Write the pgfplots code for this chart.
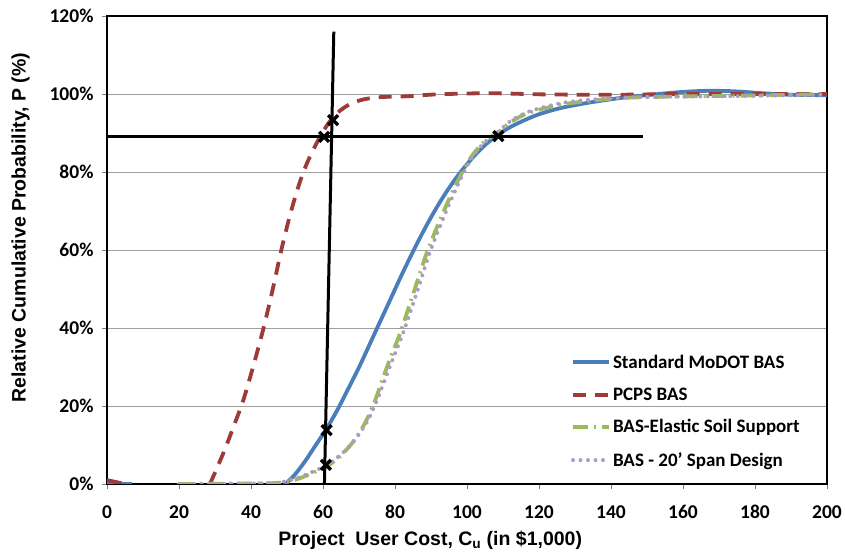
\documentclass[border=0pt]{standalone}
\usepackage{fontspec}
\setmainfont{Carlito}
\newfontfamily\arialfont{Liberation Sans}
\usepackage{pgfplots}
\pgfplotsset{compat=1.18}
\definecolor{cblue}{HTML}{4A7EBB}
\definecolor{cred}{HTML}{9E3B38}
\definecolor{cgreen}{HTML}{9BBB59}
\definecolor{cpurple}{HTML}{AE9AC8}
\begin{document}
\begin{tikzpicture}
\useasboundingbox (-107pt,-72pt) rectangle (738pt,484pt);
\begin{axis}[
  width=720pt, height=468pt, scale only axis,
  xmin=0, xmax=200, ymin=0, ymax=120,
  xtick={0,20,...,200}, ytick={0,20,...,120},
  ymajorgrids, grid style={gray!75, line width=0.9pt},
  axis line style={black, line width=1.6pt},
  tick align=outside, major tick length=5pt,
  tick style={gray, line width=0.9pt},
  xtick pos=left, ytick pos=left,
  /pgf/number format/assume math mode=true,
  ticklabel style={font=\fontsize{19.5}{19.5}\selectfont\bfseries},
  xticklabel shift=13pt, yticklabel shift=5pt,
  yticklabel={\pgfmathprintnumber{\tick}\%},
  xlabel={Project\ \ User Cost, C\textsubscript{u} (in \$1,000)},
  ylabel={Relative Cumulative Probability, P (\%)},
  label style={font=\arialfont\bfseries\fontsize{19.5}{19.5}\selectfont},
  xlabel style={at={(axis description cs:0.449,-0.12)}, anchor=center},
  ylabel style={at={(axis description cs:-0.12,0.548)}, anchor=center, rotate=0},
  legend style={at={(axis description cs:0.64,0.285)}, anchor=north west,
    draw=none, fill=none, row sep=14pt,
    font=\fontsize{19}{19}\selectfont\bfseries,
    nodes={inner sep=2pt}},
  legend cell align=left,
  legend image code/.code={\draw[#1] (0pt,0pt) -- (36pt,0pt);},
]
% Standard MoDOT BAS
\addplot[cblue, line width=3.8pt, smooth, tension=0.5] coordinates {
 (49.5,0) (52,2.2) (55,5.8) (58,10) (61,14.2) (64,19) (67,24.4) (70,29.9) (73,35.9)
 (76,41.9) (79,47.9) (82,53.9) (85,59.6) (88,65) (91,70) (94,74.5) (97,78.5)
 (100,82) (103,85.1) (106,87.7) (109,89.8) (112,91.5) (116,93.3) (120,94.8)
 (126,96.4) (134,97.8) (142,98.9) (150,99.7) (158,100.4) (166,100.8) (174,100.7)
 (182,100.2) (190,99.8) (200,99.7)};
\addlegendentry{Standard MoDOT BAS}
% PCPS BAS
\addplot[cred, line width=3.8pt, dash pattern=on 13pt off 9pt, smooth, tension=0.5] coordinates {
 (28.6,0) (30.5,4) (32.8,9) (35.4,15.3) (37.9,21.6) (40.6,30.1) (43.6,40.4) (46.2,50.6)
 (48.5,60.3) (51,69.5) (53.6,77.5) (55.9,83) (58.7,88.2) (61.5,92.5) (64.3,95.4)
 (67.5,97.4) (71.2,98.6) (76,99.2) (83,99.4) (91.6,99.9) (106,100.2) (121,99.9)
 (140,99.8) (160,100) (180,100) (200,100)};
\addlegendentry{PCPS BAS}
% BAS-Elastic Soil Support
\addplot[cgreen, line width=3.8pt, dash pattern=on 15pt off 6pt on 2pt off 6pt, smooth, tension=0.5] coordinates {
 (20,0) (45,0.2) (50,0.6) (53.6,1.5) (57,2.8) (61,4.5) (64,6.5) (67.5,9.8) (70,13)
 (72.1,16.4) (74.5,21.5) (76.8,27.5) (79,33) (81.4,38.6) (85.1,48.9) (88.8,59.2)
 (92.5,67.7) (96.2,75.4) (99.9,82) (102.5,85.5) (105.5,88.3) (109.2,90.5) (112,92.7)
 (117.5,95.3) (127.7,97.5) (141.6,98.9) (155,99.3) (170,99.5) (185,99.7) (200,100)};
\addlegendentry{BAS-Elastic Soil Support}
% BAS - 20' Span Design
\addplot[cpurple, line width=4pt, line cap=round, dash pattern=on 0pt off 7.5pt, smooth, tension=0.5] coordinates {
 (20,0) (45,0.2) (50,0.8) (53.6,1.8) (57,3.1) (61,4.8) (64,6.8) (67.5,9.8) (70,12.8)
 (72.5,16.4) (75,21.5) (77.5,27.5) (79.8,33) (82.2,38.6) (86,48.9) (89.6,59.2)
 (93.2,67.7) (96.8,75.4) (100.3,82) (102.8,85.5) (105.7,88.3) (109.2,90.7) (112,93)
 (117.5,95.6) (127.7,97.9) (141.6,99) (155,99.3) (170,99.4) (185,99.6) (200,99.8)};
\addlegendentry{BAS - 20' Span Design}
% small pieces near origin
\addplot[cblue, line width=3.8pt, forget plot] coordinates {(0,0) (7,0)};
\addplot[cred, line width=3.8pt, forget plot] coordinates {(0,1) (2,0.6) (4,0.2)};
% guide lines
\addplot[black, line width=3pt, forget plot] coordinates {(60.4,0) (63.0,116)};
\addplot[black, line width=3pt, forget plot] coordinates {(0,89) (149,89)};
% markers
\addplot[only marks, mark=x, mark size=7pt, black, forget plot,
  mark options={line width=3.4pt}] coordinates {
 (60.3,89) (62.8,93.3) (108.7,89.2) (61,13.8) (60.8,4.9)};
\end{axis}
\end{tikzpicture}
\end{document}
